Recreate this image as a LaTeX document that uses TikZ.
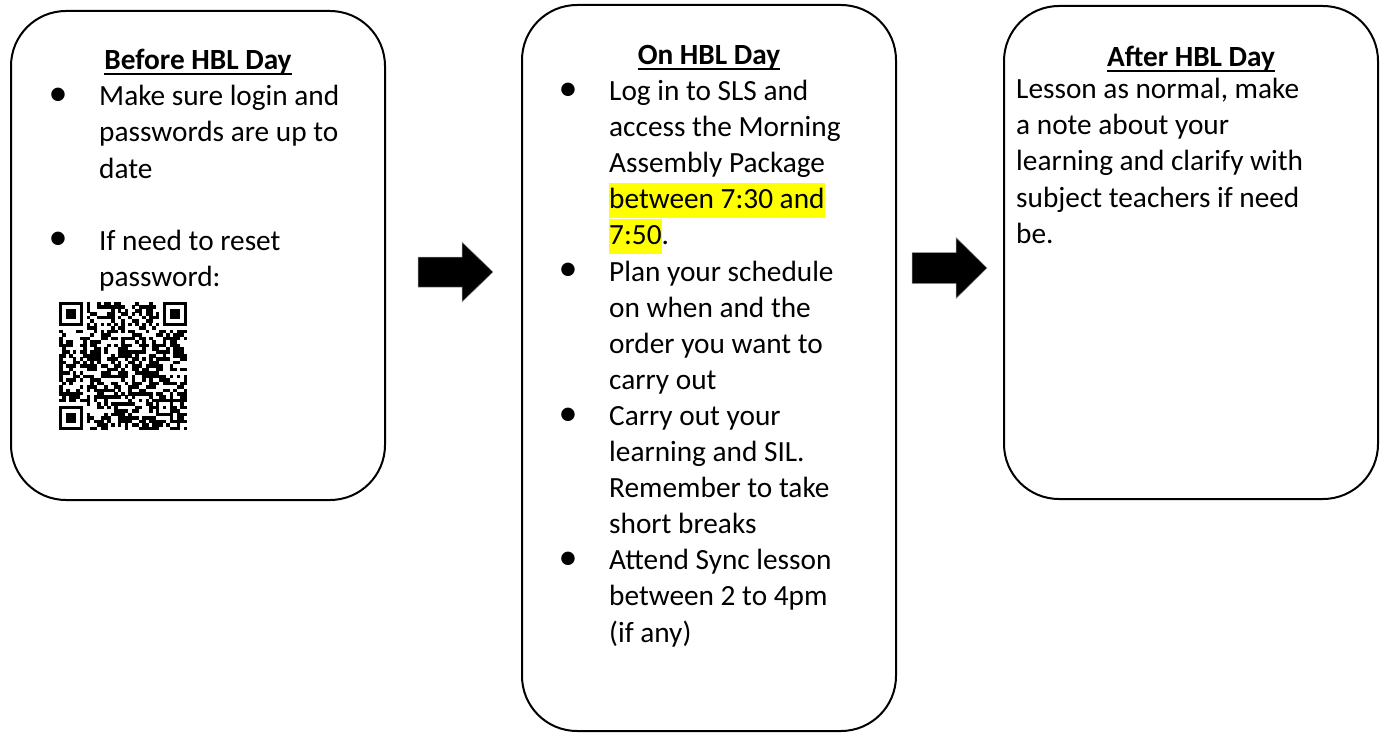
\documentclass[tikz,border=0pt]{standalone}
\usepackage{fontspec}
\setmainfont{Carlito}
\definecolor{hly}{RGB}{255,255,0}
\newcommand{\hlt}[1]{{\setlength{\fboxsep}{0pt}\colorbox{hly}{\rule[-9pt]{0pt}{35pt}#1}}}
\tikzset{
  box/.style={draw=black, line width=2pt, rounded corners=55pt, rectangle, inner sep=0pt},
  txt/.style={font=\fontsize{29.3pt}{36pt}\selectfont, inner sep=0pt, anchor=base west},
  head/.style={font=\fontsize{29.3pt}{36pt}\selectfont\bfseries, inner sep=0pt, anchor=base},
  bul/.style={font=\fontsize{38pt}{40pt}\selectfont, inner sep=0pt, anchor=center},
  ul/.style={line width=1.8pt},
  blockarrow/.style={fill=black, draw=black!40, line width=0.5pt},
  qrcell/.style={fill=black}
}
\begin{document}
\begin{tikzpicture}[x=1pt, y=-1pt]
\useasboundingbox (0,0) rectangle (1381,733);

% boxes
\node[box, minimum width=374pt, minimum height=489pt] (b1) at (198,255.5) {};
\node[box, minimum width=374pt, minimum height=726pt] (b2) at (709,368) {};
\node[box, minimum width=374pt, minimum height=493pt] (b3) at (1191,252.5) {};

% block arrows
\fill[blockarrow] (418,257) -- (462,257) -- (462,242) -- (493,272) -- (462,302) -- (462,287) -- (418,287) -- cycle;
\fill[blockarrow] (912,252.5) -- (956,252.5) -- (956,237.5) -- (987,268) -- (956,298.5) -- (956,283.5) -- (912,283.5) -- cycle;

% ---- Box 1
\node[head] (h1) at (198,70) {Before HBL Day};
\draw[ul] ([yshift=-4pt]h1.base west) -- ([yshift=-4pt]h1.base east);
\node[bul] (b1a) at (58,97) {•};
\node[txt] (l1a) at (99,106) {Make sure login and};
\node[txt] (l1b) at (99,142) {passwords are up to};
\node[txt] (l1c) at (99,178) {date};
\node[bul] (b1b) at (58,241) {•};
\node[txt] (l1d) at (99,250) {If need to reset};
\node[txt] (l1e) at (99,286) {password:};

% QR code
\begin{scope}[shift={(59,302)}]
\def\m{3.46}
\pgfmathsetseed{4242}
\foreach \i in {0,...,36}{
  \foreach \j in {0,...,36}{
    \pgfmathtruncatemacro{\qrskip}{((\i<8)&&(\j<8))||((\i>28)&&(\j<8))||((\i<8)&&(\j>28))||((\i>27)&&(\i<33)&&(\j>27)&&(\j<33))||(\i==6)||(\j==6)}
    \ifnum\qrskip=0
      \pgfmathtruncatemacro{\qron}{rnd<0.5}
      \ifnum\qron=1 \fill[qrcell] (\i*\m,\j*\m) rectangle ++(\m+0.15,\m+0.15); \fi
    \fi
  }
}
\foreach \k in {8,10,...,28}{
  \fill[qrcell] (\k*\m,6*\m) rectangle ++(\m,\m);
  \fill[qrcell] (6*\m,\k*\m) rectangle ++(\m,\m);
}
\foreach \a/\b in {0/0,30/0,0/30}{
  \fill[qrcell] (\a*\m,\b*\m) rectangle ++(7*\m,7*\m);
  \fill[white] (\a*\m+\m,\b*\m+\m) rectangle ++(5*\m,5*\m);
  \fill[qrcell] (\a*\m+2*\m,\b*\m+2*\m) rectangle ++(3*\m,3*\m);
}
\fill[qrcell] (28*\m,28*\m) rectangle ++(5*\m,5*\m);
\fill[white] (29*\m,29*\m) rectangle ++(3*\m,3*\m);
\fill[qrcell] (30*\m,30*\m) rectangle ++(\m,\m);
\end{scope}

% ---- Box 2
\node[head] (h2) at (709,65) {On HBL Day};
\draw[ul] ([yshift=-4pt]h2.base west) -- ([yshift=-4pt]h2.base east);
\foreach \t [count=\k from 0] in {Log in to SLS and, access the Morning, Assembly Package, \hlt{between 7:30 and}, \hlt{7:50}., Plan your schedule, on when and the, order you want to, carry out, Carry out your, learning and SIL., Remember to take, short breaks, Attend Sync lesson, between 2 to 4pm, (if any)}{
  \node[txt] (m\k) at (609,100.5+36.1*\k) {\t};
}
\foreach \k in {0,5,9,13}{
  \node[bul] (mb\k) at (568,91.5+36.1*\k) {•};
}

% ---- Box 3
\node[head] (h3) at (1191,67) {After HBL Day};
\draw[ul] ([yshift=-4pt]h3.base west) -- ([yshift=-4pt]h3.base east);
\foreach \t [count=\k from 0] in {{Lesson as normal, make}, a note about your, learning and clarify with, subject teachers if need, be.}{
  \node[txt] (r\k) at (1016,99+36*\k) {\t};
}
\end{tikzpicture}
\end{document}
